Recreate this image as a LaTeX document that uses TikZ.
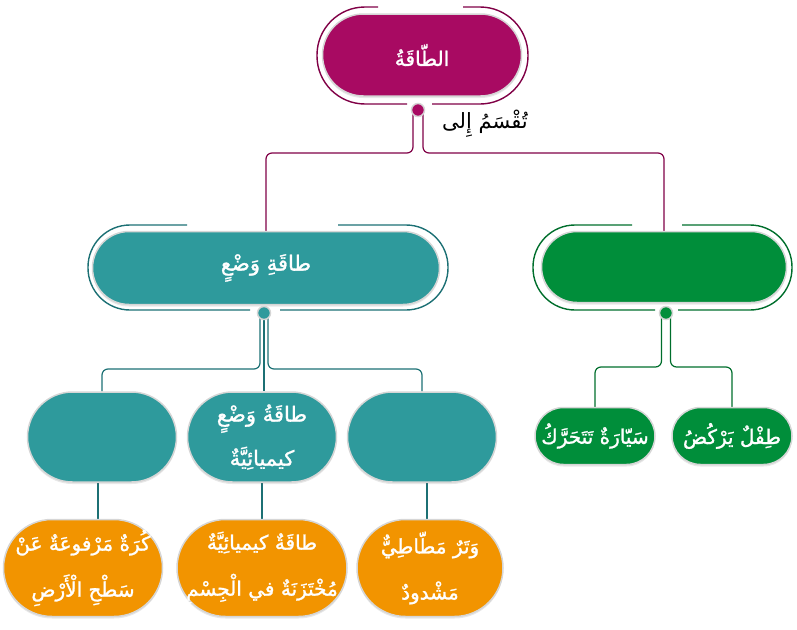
\documentclass[tikz,border=0pt]{standalone}
\usepackage{fontspec}
\newfontfamily\arabicfont[Script=Arabic]{DejaVu Sans}
\newfontfamily\arabicheavy[Script=Arabic, FakeBold=1.3]{DejaVu Sans}
\TeXXeTstate=1
\usetikzlibrary{shadows,backgrounds}

\definecolor{magfill}{RGB}{168,10,98}
\definecolor{magdark}{RGB}{128,0,70}
\definecolor{tealfill}{RGB}{46,154,156}
\definecolor{tealdark}{RGB}{28,112,116}
\definecolor{greenfill}{RGB}{0,142,58}
\definecolor{greendark}{RGB}{0,110,44}
\definecolor{orangefill}{RGB}{242,148,0}
\definecolor{boxedge}{RGB}{214,214,214}

\newcommand{\rl}[1]{\beginR#1\endR}

\tikzset{
  pill/.style={rectangle, minimum height=#1, rounded corners=0.5*#1, draw=boxedge, line width=1.5pt,
    text=white, inner sep=0pt, align=center, font=\arabicheavy\fontsize{20}{46}\selectfont,
    drop shadow={opacity=0.18, shadow xshift=0pt, shadow yshift=-2pt}},
  hub/.style={circle, draw=boxedge, line width=1.5pt, minimum size=13pt, inner sep=0pt},
  link/.style={line width=1.2pt, rounded corners=6pt},
  ring/.style={line width=1.4pt}
}

\begin{document}
\begin{tikzpicture}[x=1pt, y=-1pt]
\useasboundingbox (0,0) rectangle (797,629);

% main boxes
\node[pill=82pt, fill=magfill, minimum width=199pt] (1) at (422,55) {\rl{الطّاقَةُ}};
\node[pill=73pt, fill=tealfill, minimum width=347pt, font=\arabicheavy\fontsize{21}{24}\selectfont] (2) at (266,268) {\rl{طاقَةِ وَضْعٍ}};
\node[pill=71pt, fill=greenfill, minimum width=245pt] (3) at (664,267) {};

\node[hub, fill=magfill] (p1) at (418,110) {};
\node[hub, fill=tealfill] (p2) at (264,313) {};
\node[hub, fill=greenfill] (p3) at (666,313) {};

\node[font=\arabicfont\fontsize{21}{24}\selectfont] (lbl) at (485,124) {\rl{تُقْسَمُ إِلى}};

% outer rings
\draw[ring, magdark, rounded corners=48pt] (378,7) -- (317,7) -- (317,104) -- (407,104);
\draw[ring, magdark, rounded corners=48pt] (463,7) -- (528,7) -- (528,104) -- (432,104);
\draw[ring, tealdark, rounded corners=42pt] (187,225) -- (88,225) -- (88,310) -- (250,310);
\draw[ring, tealdark, rounded corners=42pt] (338,225) -- (448,225) -- (448,310) -- (280,310);
\draw[ring, greendark, rounded corners=42pt] (632,225) -- (533,225) -- (533,310) -- (655,310);
\draw[ring, greendark, rounded corners=42pt] (682,225) -- (792,225) -- (792,310) -- (678,310);

% second row
\node[pill=90pt, fill=tealfill, minimum width=149pt] (21) at (102,437) {};
\node[pill=90pt, fill=tealfill, minimum width=149pt, font=\arabicheavy\fontsize{21}{44}\selectfont] (22) at (262,437) {\rl{طاقَةُ وَضْعٍ}\\\rl{كيميائِيَّةٌ}};
\node[pill=90pt, fill=tealfill, minimum width=149pt] (23) at (422,437) {};

\node[pill=57pt, fill=greenfill, minimum width=120pt] (31) at (595,436) {\rl{سَيّارَةٌ تَتَحَرَّكُ}};
\node[pill=57pt, fill=greenfill, minimum width=120pt] (32) at (732,436) {\rl{طِفْلٌ يَرْكُضُ}};

% examples
\node[pill=97pt, fill=orangefill, minimum width=159pt] (211) at (83,568) {\rl{كُرَةٌ مَرْفوعَةٌ عَنْ}\\\rl{سَطْحِ الْأَرْضِ}};
\node[pill=97pt, fill=orangefill, minimum width=170pt] (221) at (262,568) {\rl{طاقَةٌ كيميائِيَّةٌ}\\\rl{مُخْتَزَنَةٌ في الْجِسْمِ}};
\node[pill=97pt, fill=orangefill, minimum width=146pt] (231) at (430,568) {\rl{وَتَرٌ مَطّاطِيٌّ}\\\rl{مَشْدودٌ}};

% connectors
\begin{scope}[on background layer]
\draw[link, magdark] ([xshift=-5pt]p1.center) -- ++(0,43) -| (2.north);
\draw[link, magdark] ([xshift=5pt]p1.center) -- ++(0,43) -| (3.north);

\draw[link, tealdark] ([xshift=-4pt]p2.center) -- ++(0,56) -| (21.north);
\draw[link, tealdark] (p2.center) -- (p2.center |- 22.north);
\draw[link, tealdark] ([xshift=4pt]p2.center) -- ++(0,56) -| (23.north);

\draw[link, greendark] ([xshift=-4.5pt]p3.center) -- ++(0,54) -| (31.north);
\draw[link, greendark] ([xshift=4.5pt]p3.center) -- ++(0,54) -| (32.north);

\draw[link, tealdark] ([xshift=-4pt]21.south) -- ([xshift=-4pt]21.south |- 211.north);
\draw[link, tealdark] (22.south) -- (22.south |- 221.north);
\draw[link, tealdark] ([xshift=5pt]23.south) -- ([xshift=5pt]23.south |- 231.north);
\end{scope}

\end{tikzpicture}
\end{document}
